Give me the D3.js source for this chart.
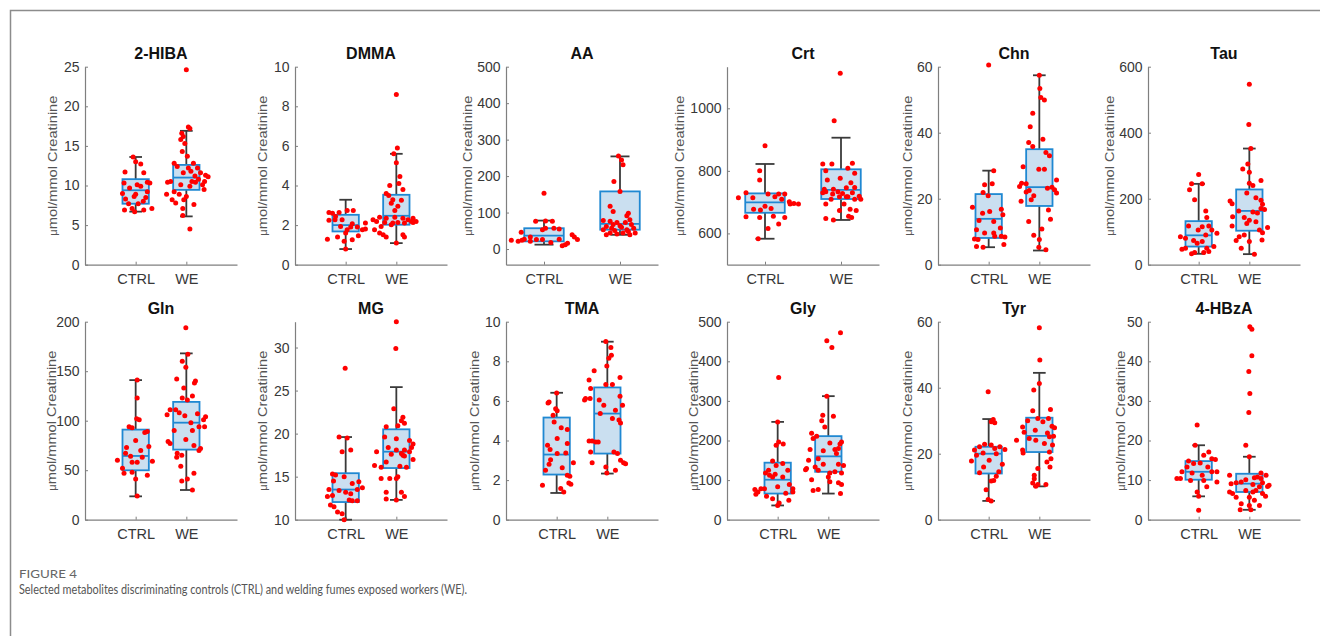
<!DOCTYPE html>
<html>
<head>
<meta charset="utf-8">
<script src="https://cdn.jsdelivr.net/npm/d3@7"></script>
<style>
  body { margin: 0; background: #fff; }
  text { font-family: "Liberation Sans", Arial, sans-serif; }
</style>
</head>
<body>
<div id="chart"></div>
<script>

// ---- data ----
var panelNames = ["2-HIBA", "DMMA", "AA", "Crt", "Chn", "Tau", "Gln", "MG", "TMA", "Gly", "Tyr", "4-HBzA"];
var groups = ["CTRL", "WE"];
var yDomains = [[0, 25], [0, 10], [-43, 500], [500, 1133], [0, 60], [0, 600],
                [0, 200], [10, 33], [0, 10], [0, 500], [0, 60], [0, 50]];
var yTicks = [[0, 5, 10, 15, 20, 25], [0, 2, 4, 6, 8, 10], [0, 100, 200, 300, 400, 500], [600, 800, 1000],
              [0, 20, 40, 60], [0, 200, 400, 600], [0, 50, 100, 150, 200], [10, 15, 20, 25, 30],
              [0, 2, 4, 6, 8, 10], [0, 100, 200, 300, 400, 500], [0, 20, 40, 60], [0, 10, 20, 30, 40, 50]];
var xLims = [[0, 3], [0, 3], [0.5, 2.5], [0.5, 2.5], [0, 3], [0, 3],
             [0, 3], [0, 3], [0, 3], [0, 3], [0, 3], [0, 3]];

// box stats: [lower whisker, q1, median, q3, upper whisker] for CTRL, WE
var boxStats = [
  [[6.7, 7.7, 9.4, 10.8, 13.6], [6.1, 9.45, 11.0, 12.6, 16.9]],
  [[0.79, 1.68, 2.0, 2.52, 3.28], [1.09, 2.02, 2.47, 3.53, 5.6]],
  [[12, 21, 36.5, 57, 78], [39, 53, 69, 158, 254]],
  [[583, 666, 699, 728, 822], [643, 710, 739, 805, 906]],
  [[5.3, 8.1, 13.9, 21.4, 28.5], [4.3, 17.8, 23.5, 35, 57.4]],
  [[33, 55, 89, 132, 245], [32, 103, 163, 228, 352]],
  [[23.6, 49.9, 64.4, 91, 141], [30, 70.8, 98, 119, 168]],
  [[10, 12.05, 13.5, 15.4, 19.6], [12.3, 16.0, 17.9, 20.5, 25.4]],
  [[1.35, 2.28, 3.29, 5.16, 6.41], [2.33, 3.34, 5.36, 6.68, 8.99]],
  [[36, 66, 101, 144, 247], [66, 121, 160, 211, 312]],
  [[5.7, 14, 20, 22.1, 30.5], [10.1, 20.5, 25.4, 30.9, 44.5]],
  [[5.9, 10.1, 12.1, 14.8, 18.8], [2.5, 7.0, 9.1, 11.6, 15.9]]
];

// individual subjects: [jitter from group centre, value]
var hibaCtrl = [[-0.05,13.6],[0,13.0],[-0.21,11.7],[0.16,11.6],[-0.23,10.3],[0.03,10.1],[0.23,10.4],[0.28,10.3],[0.1,9.9],[-0.12,9.7],[-0.26,9.0],[-0.03,8.6],[-0.2,8.3],[0.2,8.5],[0.15,8.0],[-0.14,7.7],[0.05,7.7],[-0.07,7.1],[0.32,7.1],[-0.22,6.9],[-0.02,6.7],[0.16,6.9],[0,8.9],[0.23,9.2],[0.1,12.7]];
var hibaWe = [[0,24.6],[0.07,4.5],[0.04,17.4],[0.07,17.2],[-0.09,16.6],[-0.06,16.2],[-0.11,15.8],[-0.03,15.3],[-0.08,14.3],[0.02,13.7],[-0.24,12.8],[0.14,12.8],[-0.18,12.4],[0.22,12.2],[0.09,11.8],[0.28,11.6],[0.38,11.3],[-0.06,11.6],[0.17,11.2],[0.43,11.1],[-0.31,10.5],[-0.37,10.4],[0.11,10.5],[-0.11,10.1],[0.18,10.4],[0.32,10.1],[0.35,9.5],[-0.24,9.2],[-0.39,8.9],[-0.28,8.2],[-0.21,7.8],[-0.05,8.2],[-0.07,7.1],[0.15,7.6],[-0.07,6.2],[0.07,9.9],[0.24,10.8],[0.36,10.5],[0,8.6],[-0.14,8.9],[0.04,12.2]];

var dmmaCtrl = [[-0.33,2.64],[-0.26,2.6],[-0.13,2.64],[0.03,2.74],[0.15,2.74],[-0.33,2.24],[-0.21,2.27],[-0.07,2.27],[0.13,2.07],[0.23,1.9],[0.39,2.1],[0.39,1.8],[0.33,1.76],[-0.1,1.93],[0.03,1.76],[0.1,1.9],[0,1.6],[-0.16,1.4],[0.25,1.46],[-0.36,1.29],[-0.03,1.18],[0.13,1.26],[0,0.79],[-0.2,2.44]];
var dmmaWe = [[0,8.6],[0.02,5.9],[-0.05,5.6],[0,5.15],[0.07,4.45],[0.05,4.1],[-0.13,4.0],[0.13,3.8],[-0.2,3.6],[-0.15,3.5],[-0.07,3.28],[0.1,3.25],[-0.1,3.1],[0.03,2.95],[-0.03,2.74],[-0.33,2.4],[-0.2,2.35],[-0.03,2.4],[0.13,2.35],[0.23,2.27],[0.3,2.18],[0.39,2.18],[0.33,2.35],[-0.46,2.27],[-0.39,2.18],[-0.23,2.13],[0.03,2.13],[0.16,2.1],[-0.1,2.02],[-0.3,1.93],[-0.43,1.76],[-0.33,1.6],[-0.26,1.51],[-0.2,1.4],[0.13,1.51],[0.16,1.4],[-0.07,2.1],[0,1.09],[0.33,2.13]];

var aaCtrl = [[0,153],[-0.3,46],[-0.11,76],[0.02,77],[0.11,76],[0.02,57],[-0.02,53],[0.13,57],[0.2,55],[-0.18,33],[-0.1,26],[-0.43,24],[-0.34,21],[-0.29,24],[-0.18,21],[-0.02,26],[0.09,18],[0.2,27],[0.28,12],[0.31,16],[0.37,39],[0.4,33],[0.44,26],[0.24,9],[-0.26,27]];
var aaWe = [[-0.02,255],[0.02,244],[0.04,231],[-0.08,185],[0,158],[-0.13,117],[-0.09,103],[0.11,98],[0.09,91],[-0.22,78],[-0.13,76],[-0.04,73],[0.07,73],[0.13,80],[-0.18,62],[-0.11,57],[0.02,60],[0.18,57],[-0.22,53],[-0.07,51],[0.09,53],[-0.13,44],[-0.04,41],[0.04,44],[0.13,39],[0.2,44],[-0.18,39],[0.11,48],[0,64],[0.15,67],[-0.09,67]];

var crtCtrl = [[0,880],[-0.07,800],[-0.07,771],[-0.25,730],[0.04,726],[0.18,726],[0.13,717],[0.26,726],[-0.35,714],[-0.16,714],[0.22,709],[0.32,701],[0.38,696],[0.44,694],[0.33,694],[-0.15,677],[0,687],[-0.06,675],[0.08,680],[-0.25,653],[-0.07,651],[0.11,655],[0.26,651],[0.18,630],[0.04,616],[-0.09,583]];
var crtWe = [[-0.01,1112],[-0.09,960],[-0.24,822],[-0.12,822],[0.15,824],[0.09,808],[-0.2,800],[0.18,792],[-0.01,776],[-0.18,771],[0.13,762],[-0.22,741],[-0.1,741],[0.07,746],[0.18,747],[-0.2,733],[-0.04,733],[0.02,728],[0.15,730],[0.24,719],[-0.24,730],[-0.11,726],[-0.02,717],[0.09,717],[0.26,709],[0.18,709],[-0.13,709],[-0.2,694],[0.04,694],[-0.02,673],[0.12,677],[0.2,673],[-0.2,648],[-0.1,643],[0.1,655],[0.14,651],[0.07,717]];

var chnCtrl = [[0,60.5],[0.1,28.5],[-0.08,24.2],[0.07,24.5],[-0.11,21.9],[-0.01,20.9],[-0.32,17.4],[0.25,16.8],[-0.12,15.6],[0.02,16.1],[0.28,15.1],[-0.19,13.4],[0.1,13.1],[0.23,11.1],[-0.24,10.6],[-0.08,9.6],[0.1,9.6],[0.25,8.6],[0.32,8.4],[-0.28,7.8],[-0.21,7.6],[-0.24,5.5],[-0.11,5.3],[0.3,6.1],[0.12,8.6]];
var chnWe = [[0,57.4],[0.01,53.4],[0.03,50.7],[0.1,49.9],[-0.13,45.9],[-0.18,41.8],[0.07,38],[-0.21,37],[-0.13,35.8],[0.13,34],[0.2,33],[-0.32,29.7],[-0.01,28.9],[0.1,28.9],[0.34,25.7],[-0.35,24.7],[-0.39,23.7],[0.16,23.2],[0.25,23.5],[0.3,22.7],[-0.26,22],[-0.2,22.5],[0.34,21.7],[-0.11,20.9],[-0.16,19.7],[-0.36,19.2],[0.18,16.6],[-0.21,13.1],[0.22,13.8],[0.05,10.8],[-0.11,8.9],[0,7.6],[-0.01,5.3],[0.13,4.5],[-0.26,24.5]];

var tauCtrl = [[0,273],[-0.14,245],[0.07,245],[-0.18,227],[-0.08,197],[0.14,163],[0.16,143],[-0.2,117],[0.07,115],[0.2,117],[-0.01,105],[0.36,95],[0.26,105],[-0.36,85],[0.14,90],[-0.26,80],[-0.1,73],[-0.03,65],[0.07,70],[0.16,50],[0.3,55],[-0.26,50],[-0.33,47],[0.1,37],[-0.14,33],[-0.08,37],[0.2,40]];
var tauWe = [[0,547],[-0.01,425],[0.03,352],[-0.03,305],[-0.13,290],[0,280],[0.23,255],[0,247],[0.07,240],[-0.05,217],[-0.38,193],[-0.34,185],[0.13,203],[0.23,195],[0.26,183],[-0.21,163],[0.23,170],[0.3,167],[0.07,160],[0.16,157],[-0.33,145],[-0.1,143],[0,135],[-0.05,125],[-0.34,117],[0.36,113],[0.2,105],[0.26,97],[-0.1,90],[-0.2,85],[-0.26,73],[0.25,75],[0,70],[-0.16,50],[0.1,32],[0.13,130]];

var glnCtrl = [[0.03,141],[0.03,123],[0.02,102],[0.07,101],[-0.13,94],[-0.07,93],[0.23,89],[0.18,88],[0,80],[0.1,70],[0.26,74],[-0.2,67],[-0.1,64],[-0.07,58],[0.33,59],[-0.36,60],[0.03,58],[-0.26,52],[-0.23,47],[-0.07,48],[0.23,45],[0,41],[0.03,24],[-0.18,73],[0.13,63]];
var glnWe = [[-0.01,194],[0.03,167],[-0.08,160],[-0.01,154],[-0.19,142],[0.18,140],[0.16,138],[-0.05,133],[0.12,125],[-0.08,123],[0.02,121],[-0.32,111],[-0.21,111],[-0.38,106],[0.22,107],[-0.14,108],[-0.03,105],[0.38,104],[0.34,101],[0.36,94],[0.25,94],[0.12,90],[0.09,98],[-0.36,79],[-0.32,77],[-0.01,81],[-0.18,67],[0.25,70],[0.28,72],[-0.09,65],[-0.19,63],[0.15,75],[-0.11,54],[0.15,47],[-0.09,39],[0.02,41],[0.12,30],[-0.24,90]];

var mgCtrl = [[-0.01,27.6],[-0.13,19.6],[0.03,19.5],[0.1,18.1],[-0.07,17.9],[-0.26,15.3],[-0.2,15.2],[-0.03,15],[-0.24,14.5],[0.13,14.2],[0.26,14.4],[0.33,13.7],[0.23,13.5],[-0.33,13.5],[-0.13,13.4],[0,13.2],[-0.26,12.8],[0.1,13],[0.13,12.2],[0.23,12.2],[-0.3,11.7],[-0.23,11.5],[0.07,12.3],[-0.16,10.9],[-0.07,10.7],[-0.03,10],[-0.36,12.7]];
var mgWe = [[0,33],[-0.01,29.9],[-0.05,22.9],[0.13,21.9],[0.1,21.5],[0.16,21.2],[0.03,20.9],[-0.2,20.8],[-0.23,19.6],[0,19.4],[0.26,19.2],[0.33,18.8],[0.3,18.4],[-0.16,18.4],[0.16,18.1],[0,18.1],[0.26,17.9],[0.1,17.7],[0.13,17.5],[-0.39,17.9],[-0.1,17.6],[0.16,17.4],[0.33,17],[-0.2,16.7],[-0.43,16.3],[-0.3,16.1],[0.07,16.2],[0.2,16.1],[0.03,15],[-0.3,14.8],[-0.13,14.8],[0,14.8],[-0.2,13.2],[0.1,13.2],[-0.2,12.4],[0.16,12.7],[0,12.3]];

var tmaCtrl = [[0,6.4],[-0.15,5.95],[-0.17,5.9],[-0.02,5.6],[0.01,5.5],[-0.07,5.28],[-0.05,4.94],[0.09,4.65],[0.21,4.55],[0.01,4.1],[-0.18,3.76],[0.21,3.85],[-0.13,3.54],[0.18,3.37],[-0.12,3.03],[0.33,2.87],[-0.15,2.8],[-0.22,2.5],[0.11,2.63],[0.21,2.24],[0.26,2.19],[0.24,1.85],[0.28,1.79],[-0.28,1.74],[0.08,1.57],[0.14,1.4],[0.01,3.34]];
var tmaWe = [[-0.03,9.0],[0.07,8.7],[0.08,8.3],[0.03,8.15],[-0.01,7.76],[-0.26,7.52],[-0.36,7.05],[0.25,7.18],[-0.33,6.63],[-0.03,6.83],[0.1,6.83],[-0.43,6.12],[-0.34,6.12],[-0.45,6.04],[0.25,6.24],[-0.16,6.04],[0.3,5.78],[-0.07,5.78],[0.16,5.53],[-0.14,5.36],[0.1,5.11],[0.23,5.03],[0.26,4.89],[-0.36,3.98],[-0.3,3.98],[-0.23,3.93],[-0.33,3.42],[0.13,3.42],[0.2,3.34],[0.26,3.0],[-0.3,2.87],[0.32,2.87],[0.36,2.83],[-0.03,2.66],[0.16,2.5],[-0.01,2.36],[-0.18,3.93]];

var glyCtrl = [[0.02,359],[0,247],[0.02,196],[0.11,191],[-0.03,188],[-0.1,148],[0.1,142],[-0.03,137],[0.2,125],[-0.18,125],[-0.24,118],[-0.05,115],[-0.16,112],[0.1,108],[0.23,89],[-0.1,108],[-0.33,78],[0,83],[0.3,78],[-0.45,76],[-0.39,70],[0.16,67],[-0.43,64],[0.3,70],[-0.22,59],[-0.1,53],[0.22,49],[0.03,42],[0,36],[-0.26,78]];
var glyWe = [[0.24,472],[-0.03,452],[0.07,435],[-0.03,312],[-0.11,264],[0.1,261],[-0.13,250],[-0.07,234],[-0.33,218],[-0.23,211],[-0.3,205],[0.03,194],[-0.36,177],[-0.1,174],[0.13,177],[0.26,196],[0.2,180],[0.23,191],[0.16,167],[-0.2,154],[-0.39,150],[-0.1,140],[0.2,140],[0.3,137],[-0.26,133],[-0.43,129],[-0.45,126],[-0.2,125],[0.03,118],[0.13,121],[0.26,118],[0,108],[-0.33,101],[0.2,93],[0.26,89],[-0.2,76],[0.03,96],[0.24,66],[-0.3,74]];

var tyrCtrl = [[-0.01,38.8],[0.09,30.4],[0.05,29.7],[0.12,29.4],[-0.08,22.9],[0.05,22.6],[0.12,21.6],[0.32,21.3],[0.22,22.1],[-0.28,21.1],[-0.18,22.1],[-0.11,20.2],[-0.24,19.5],[-0.34,17.8],[0.01,18.0],[-0.1,16],[0.27,16.8],[0.2,14.5],[-0.18,14.2],[0.15,13.2],[0.05,11.7],[0.1,11.9],[-0.05,9.1],[-0.01,6.1],[0.05,5.7],[0.15,20]];
var tyrWe = [[0,58.2],[0.01,48.4],[0,41.3],[-0.11,39.3],[-0.13,33],[0.22,33.4],[-0.03,30.7],[-0.23,30],[0.07,29.7],[0.18,30.7],[-0.33,28.1],[-0.08,27.1],[0.25,28.3],[0.3,27.9],[0.16,26.3],[-0.3,26.5],[0.2,25.1],[0.28,25.3],[-0.2,24.6],[-0.45,24.1],[-0.07,24.1],[0.26,22.6],[0.1,23.1],[-0.33,21.1],[-0.32,20.2],[0.2,20.5],[0.23,18.5],[0.15,17.5],[0.21,16],[-0.03,15.5],[-0.1,13.5],[-0.1,12.4],[-0.13,11.1],[-0.03,10.7],[0.13,10.7],[-0.07,10.1]];

var hbzaCtrl = [[-0.03,23.9],[-0.07,18.8],[0.2,17.1],[0.1,16.3],[-0.2,14.8],[0.26,15.4],[0.33,15.2],[-0.1,14.2],[0.03,14.3],[0.18,13.3],[0.26,12.1],[0.07,11.2],[-0.23,13.3],[-0.33,12.1],[0.36,12.1],[-0.43,10.4],[-0.36,10.4],[-0.16,9.9],[0.1,9.9],[0.36,9.5],[0.16,8.3],[-0.03,7.0],[0,5.9],[0,2.4],[-0.13,11.8]];
var hbzaWe = [[0.01,48.7],[0.05,48.1],[0.05,41.4],[-0.01,37.4],[0.01,31.9],[-0.01,27.1],[-0.07,18.8],[0,15.9],[0.23,11.8],[0.33,11.2],[-0.39,11.2],[0.1,10.6],[0.16,10.8],[0.23,10.4],[-0.07,10.1],[-0.16,9.5],[-0.26,9.3],[0.26,9.3],[0.07,8.9],[0.2,8.3],[0.36,8.4],[0.39,8.7],[-0.39,7.0],[-0.33,6.6],[-0.07,7.4],[0.07,7.0],[0.13,7.4],[0.26,6.6],[0.32,5.9],[-0.26,5.7],[0,5.7],[0.1,4.9],[-0.16,4.0],[0,3.6],[0.2,3.6],[-0.18,2.5],[0.03,2.5],[-0.36,9.1]];

var ctrlPoints = [hibaCtrl, dmmaCtrl, aaCtrl, crtCtrl, chnCtrl, tauCtrl, glnCtrl, mgCtrl, tmaCtrl, glyCtrl, tyrCtrl, hbzaCtrl];
var wePoints = [hibaWe, dmmaWe, aaWe, crtWe, chnWe, tauWe, glnWe, mgWe, tmaWe, glyWe, tyrWe, hbzaWe];

var captionLabel = "FIGURE 4";
var captionText = "Selected metabolites discriminating controls (CTRL) and welding fumes exposed workers (WE).";

// ---- layout ----
var W = 1320, H = 636;
var panelLeft = [85, 295, 506, 727, 938, 1148];
var rowTop = [66.7, 321.7];
var plotW = 152, plotH = 198;
var yLabelGap = [32, 32, 38, 47, 30, 38, 33, 32, 31, 33, 30, 27];
var boxColor = "#1f88d2", boxFill = "#cadff0", whiskColor = "#3a3a3a", dotColor = "#ff0000";

var svg = d3.select("#chart")
  .append("svg")
    .attr("width", W)
    .attr("height", H);

svg.append("rect").attr("width", W).attr("height", H).attr("fill", "#fff");

// outer frame (left and top edges are visible)
svg.append("path")
  .attr("d", "M10.5," + H + " V10.5 H" + W)
  .attr("fill", "none")
  .attr("stroke", "#8c8c8c")
  .attr("stroke-width", 1.5);

panelNames.forEach(function(name, i) {
  var row = Math.floor(i / 6), col = i % 6;
  var g = svg.append("g")
    .attr("transform", "translate(" + panelLeft[col] + "," + rowTop[row] + ")");

  var x = d3.scaleLinear().domain(xLims[i]).range([0, plotW]);
  var y = d3.scaleLinear().domain(yDomains[i]).range([plotH, 0]);
  var unit = x(1) - x(0);
  var boxW = 0.52 * unit, capW = 0.25 * unit;

  // axes
  var ya = g.append("g")
    .call(d3.axisLeft(y).tickValues(yTicks[i]).tickFormat(d3.format("d"))
      .tickSizeInner(-3).tickSizeOuter(0).tickPadding(5.5));
  var xa = g.append("g")
    .attr("transform", "translate(0," + plotH + ")")
    .call(d3.axisBottom(x).tickValues([1, 2]).tickFormat(function(d) { return groups[d - 1]; })
      .tickSizeInner(-3).tickSizeOuter(0).tickPadding(9));
  [ya, xa].forEach(function(a) {
    a.select(".domain").attr("stroke", "#7f7f7f").attr("stroke-width", 1.2);
    a.selectAll(".tick line").attr("stroke", "#7f7f7f");
    a.selectAll(".tick text")
      .attr("fill", "#383838")
      .style("font-size", "14px")
      .style("font-family", "'Liberation Sans', Arial, sans-serif");
  });
  xa.selectAll(".tick text").style("font-size", "14.5px");

  // title
  g.append("text")
    .attr("x", plotW / 2)
    .attr("y", -7.5)
    .attr("text-anchor", "middle")
    .style("font-size", "16px")
    .style("font-weight", "bold")
    .attr("fill", "#111")
    .text(name);

  // y label
  var yl = g.append("text")
    .attr("transform", "translate(" + (-yLabelGap[i] + 3.5) + "," + (plotH / 2) + ") rotate(-90)")
    .attr("text-anchor", "middle")
    .attr("fill", "#555")
    .attr("textLength", 140)
    .attr("lengthAdjust", "spacingAndGlyphs")
    .style("font-size", "13px");
  yl.append("tspan").style("font-size", "10px").text("\u03bc");
  yl.append("tspan").text("mol/mmol Creatinine");

  // boxes
  boxStats[i].forEach(function(s, k) {
    var cx = x(k + 1);
    // whiskers
    g.append("line")
      .attr("x1", cx).attr("x2", cx)
      .attr("y1", y(s[0])).attr("y2", y(s[4]))
      .attr("stroke", whiskColor).attr("stroke-width", 1.8);
    [s[0], s[4]].forEach(function(v) {
      g.append("line")
        .attr("x1", cx - capW / 2).attr("x2", cx + capW / 2)
        .attr("y1", y(v)).attr("y2", y(v))
        .attr("stroke", whiskColor).attr("stroke-width", 1.8);
    });
    g.append("rect")
      .attr("x", cx - boxW / 2)
      .attr("y", y(s[3]))
      .attr("width", boxW)
      .attr("height", y(s[1]) - y(s[3]))
      .attr("fill", boxFill)
      .attr("stroke", boxColor)
      .attr("stroke-width", 1.8);
    g.append("line")
      .attr("x1", cx - boxW / 2).attr("x2", cx + boxW / 2)
      .attr("y1", y(s[2])).attr("y2", y(s[2]))
      .attr("stroke", boxColor).attr("stroke-width", 1.8);
  });

  // points
  [ctrlPoints[i], wePoints[i]].forEach(function(pts, k) {
    g.selectAll(".dot" + k)
      .data(pts)
      .enter()
      .append("circle")
        .attr("class", "dot" + k)
        .attr("cx", function(d) { return x(k + 1 + d[0]); })
        .attr("cy", function(d) { return y(d[1]); })
        .attr("r", 2.5)
        .attr("fill", dotColor);
  });
});

// caption
svg.append("text")
  .attr("x", 19)
  .attr("y", 577.5)
  .attr("fill", "#666")
  .attr("textLength", 58)
  .attr("lengthAdjust", "spacingAndGlyphs")
  .style("font-family", "Lato, 'Open Sans', sans-serif")
  .style("font-size", "12px")
  .text(captionLabel);

svg.append("text")
  .attr("x", 19)
  .attr("y", 594)
  .attr("fill", "#555")
  .attr("textLength", 448)
  .attr("lengthAdjust", "spacingAndGlyphs")
  .style("font-family", "Lato, 'Open Sans', sans-serif")
  .style("font-size", "14px")
  .text(captionText);

</script>
</body>
</html>
